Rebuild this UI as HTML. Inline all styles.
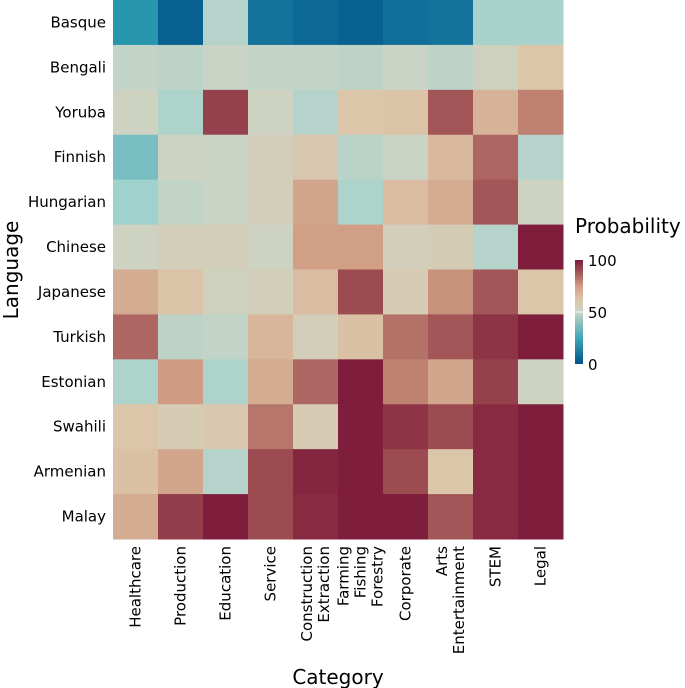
<!DOCTYPE html>
<html><head><meta charset="utf-8"><style>
html,body{margin:0;padding:0;background:#fff;width:685px;height:688px;overflow:hidden}
text{font-family:"DejaVu Sans","Liberation Sans",sans-serif;fill:#000}
</style></head><body>
<svg id="chart" width="685" height="688" xmlns="http://www.w3.org/2000/svg">
<defs>
<linearGradient id="lg" x1="0" y1="1" x2="0" y2="0">
<stop offset="0" stop-color="#00538a"/><stop offset="0.25" stop-color="#3ea6b6"/>
<stop offset="0.5" stop-color="#cad4c6"/><stop offset="0.62" stop-color="#dcc6aa"/>
<stop offset="0.75" stop-color="#cf9c83"/><stop offset="0.9" stop-color="#9c4b50"/>
<stop offset="1" stop-color="#7f1d3c"/></linearGradient>
</defs>
<g id="cells"></g>
<g id="ylabels"></g>
<g id="xlabels"></g>
<text transform="translate(18,270) rotate(-90)" text-anchor="middle" font-size="20">Language</text>
<text x="338" y="684" text-anchor="middle" font-size="20">Category</text>
<text x="575" y="233" font-size="20">Probability</text>
<rect x="575" y="260" width="8" height="104" fill="url(#lg)"/>
<line x1="575" x2="583" y1="312" y2="312" stroke="#fff" stroke-width="1"/>
<text x="588" y="266" font-size="15">100</text>
<text x="588" y="318" font-size="15">50</text>
<text x="588" y="370" font-size="15">0</text>
</svg>
<script>
const languages=["Basque","Bengali","Yoruba","Finnish","Hungarian","Chinese","Japanese","Turkish","Estonian","Swahili","Armenian","Malay"];
const categories=[["Healthcare"],["Production"],["Education"],["Service"],["Construction","Extraction"],["Farming","Fishing","Forestry"],["Corporate"],["Arts","Entertainment"],["STEM"],["Legal"]];
const values=[
[25,5,45,12,8,5,10,12,42,42],
[48,47,50,48,48,47,50,47,53,62],
[52,43,92,52,45,62,63,88,68,80],
[35,52,50,55,60,46,50,66,85,45],
[40,48,50,55,72,43,65,70,88,52],
[52,55,55,52,74,74,55,57,45,100],
[70,63,53,55,65,90,58,77,88,62],
[85,47,48,67,55,64,83,88,95,100],
[43,75,43,70,85,100,80,72,92,52],
[62,58,60,82,58,100,95,90,97,100],
[64,72,45,90,98,100,90,62,97,100],
[70,93,100,90,97,100,100,88,97,100]];
const x0=113,x1=563,y0=0,y1=539;
const cw=(x1-x0)/categories.length, ch=(y1-y0)/languages.length;
const xs=i=>x0+i*cw, ys=j=>y0+j*ch;
const stops=[[0,[0,83,138]],[25,[40,150,172]],[40,[160,210,205]],[50,[202,212,198]],[62,[220,198,170]],[75,[207,156,131]],[90,[156,75,80]],[100,[127,29,60]]];
function color(v){for(let k=1;k<stops.length;k++){if(v<=stops[k][0]){const a=stops[k-1],b=stops[k],t=(v-a[0])/(b[0]-a[0]);return `rgb(${a[1].map((c,i)=>Math.round(c+(b[1][i]-c)*t)).join(',')})`;}}return 'rgb(127,29,60)';}
const NS="http://www.w3.org/2000/svg";
const gc=document.getElementById('cells'),gy=document.getElementById('ylabels'),gx=document.getElementById('xlabels');
values.forEach((row,j)=>row.forEach((v,i)=>{
 const r=document.createElementNS(NS,'rect');
 
 
 r.setAttribute('x',xs(i));r.setAttribute('y',ys(j));
 r.setAttribute('width',cw+0.5);r.setAttribute('height',ch+0.5);
 r.setAttribute('fill',color(v));gc.appendChild(r);}));
languages.forEach((l,j)=>{
 const t=document.createElementNS(NS,'text');
 
 
 t.setAttribute('x',106);t.setAttribute('y',ys(j)+ch/2+5);
 t.setAttribute('text-anchor','end');t.setAttribute('font-size','15');
 t.textContent=l;gy.appendChild(t);});
categories.forEach((lines,i)=>{
 const cx=xs(i)+cw/2,n=lines.length;
 lines.forEach((s,k)=>{
  const t=document.createElementNS(NS,'text');
  
  
  const x=cx+(k-(n-1)/2)*17+5;
  t.setAttribute('transform',`translate(${x},546) rotate(-90)`);
  t.setAttribute('text-anchor','end');t.setAttribute('font-size','15');
  t.textContent=s;gx.appendChild(t);});});
</script>
</body></html>
